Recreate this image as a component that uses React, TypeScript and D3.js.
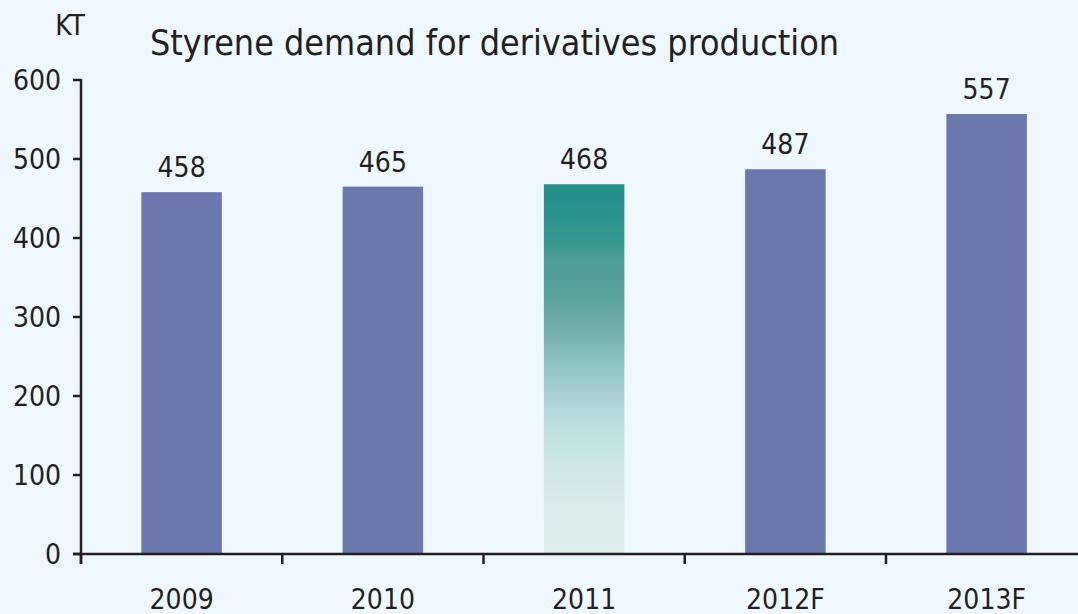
import React from "react";
import * as d3 from "d3";

const categories = ["2009", "2010", "2011", "2012F", "2013F"];
const values = [458, 465, 468, 487, 557];
const yTicks = [0, 100, 200, 300, 400, 500, 600];
const highlighted = "2011";

const W = 1078;
const H = 614;
const FONT = "'DejaVu Sans Condensed', 'DejaVu Sans', sans-serif";
const TEXT = "#231f20";
const LABEL_SIZE = 28;

const gradientStops: [number, string][] = [
  [0, "#1f9189"],
  [0.08, "#2a928b"],
  [0.16, "#36988f"],
  [0.2, "#4c9d98"],
  [0.28, "#56a09c"],
  [0.35, "#68a8a4"],
  [0.42, "#7ab5b2"],
  [0.5, "#93c6c3"],
  [0.56, "#a6d0cf"],
  [0.62, "#b5dcdc"],
  [0.7, "#c3e2e1"],
  [0.8, "#d0e8e7"],
  [0.88, "#d9edec"],
  [1, "#e0efed"],
];

export default function App() {
  const x0 = 81;
  const bandW = 201.25;
  const x = d3
    .scaleBand<string>()
    .domain(categories)
    .range([x0, x0 + bandW * categories.length])
    .paddingInner(0.6)
    .paddingOuter(0.3);
  const y = d3.scaleLinear().domain([0, 600]).range([554, 80]);
  const bands = categories.map((_, i) => x0 + i * bandW);

  return (
    <svg
      width={W}
      height={H}
      style={{ position: "absolute", left: 0, top: 0, background: "#eff8fe" }}
    >
      <defs>
        <linearGradient id="g2011" x1="0" y1="0" x2="0" y2="1">
          {gradientStops.map(([o, c], i) => (
            <stop key={i} offset={o} stopColor={c} />
          ))}
        </linearGradient>
      </defs>
      <rect x={0} y={0} width={W} height={H} fill="#eff8fe" />
      <text x={150} y={55} fontFamily={FONT} fontSize={35.6} fill={TEXT}>
        Styrene demand for derivatives production
      </text>
      <text x={70} y={35} fontFamily={FONT} fontSize={LABEL_SIZE} fill={TEXT} textAnchor="middle">
        KT
      </text>
      {categories.map((c, i) => {
        const bx = x(c)!;
        const bw = x.bandwidth();
        const yt = y(values[i]);
        return (
          <g key={c}>
            <rect
              x={bx}
              y={yt}
              width={bw}
              height={y(0) - yt}
              fill={c === highlighted ? "url(#g2011)" : "#6a78ad"}
            />
            <text
              x={bx + bw / 2}
              y={yt - 15}
              textAnchor="middle"
              fontFamily={FONT}
              fontSize={LABEL_SIZE}
              fill={TEXT}
            >
              {values[i]}
            </text>
            <text
              x={bx + bw / 2}
              y={609}
              textAnchor="middle"
              fontFamily={FONT}
              fontSize={LABEL_SIZE}
              fill={TEXT}
            >
              {c}
            </text>
          </g>
        );
      })}
      {/* y axis */}
      <line x1={x0} x2={x0} y1={y(600) - 1} y2={y(0) + 10} stroke={TEXT} strokeWidth={2.5} />
      {yTicks.map((t) => (
        <g key={t}>
          <line x1={73} x2={x0} y1={y(t)} y2={y(t)} stroke={TEXT} strokeWidth={2.5} />
          <text
            x={61}
            y={y(t)}
            dy="0.36em"
            textAnchor="end"
            fontFamily={FONT}
            fontSize={LABEL_SIZE}
            fill={TEXT}
          >
            {t}
          </text>
        </g>
      ))}
      {/* x axis */}
      <line x1={73} x2={W} y1={y(0)} y2={y(0)} stroke={TEXT} strokeWidth={2.5} />
      {bands.map((b, i) => (
        <line key={i} x1={b} x2={b} y1={y(0)} y2={y(0) + 10} stroke={TEXT} strokeWidth={2.5} />
      ))}
    </svg>
  );
}
